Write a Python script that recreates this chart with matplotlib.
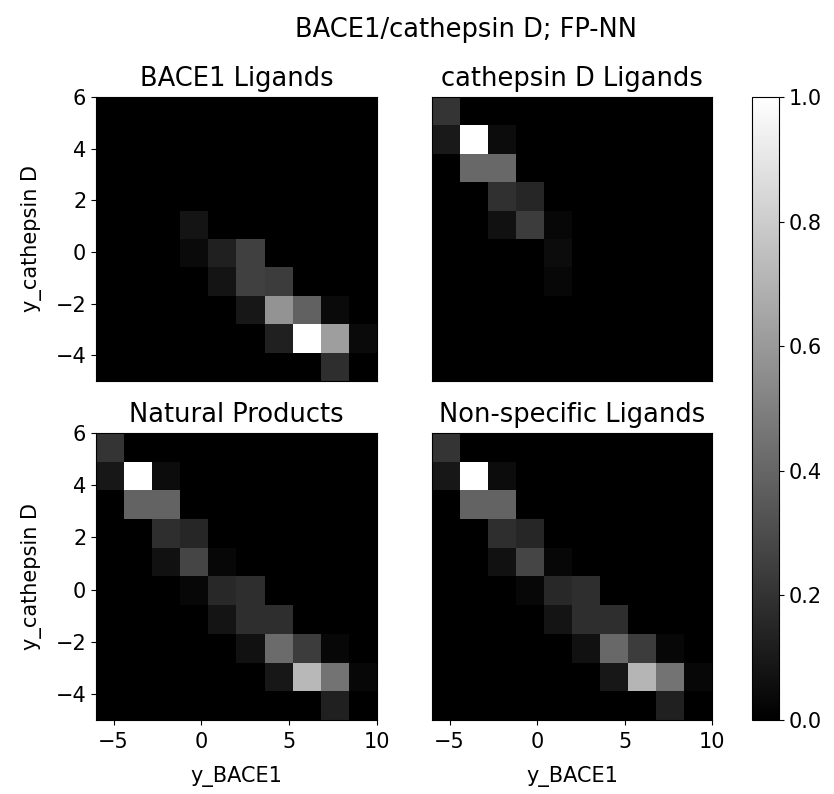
import numpy as np
import matplotlib
matplotlib.use("Agg")
import matplotlib.pyplot as plt

# Normalised 2D histogram values, 10 x 10 grid, rows from top (y_cathepsin D = 6) to bottom (-5),
# columns from left (y_BACE1 = -6) to right (10)
panel_titles = ["BACE1 Ligands", "cathepsin D Ligands", "Natural Products", "Non-specific Ligands"]

bace1_ligands = [
    [0, 0, 0, 0, 0, 0, 0, 0, 0, 0],
    [0, 0, 0, 0, 0, 0, 0, 0, 0, 0],
    [0, 0, 0, 0, 0, 0, 0, 0, 0, 0],
    [0, 0, 0, 0, 0, 0, 0, 0, 0, 0],
    [0, 0, 0, 0.08, 0, 0, 0, 0, 0, 0],
    [0, 0, 0, 0.04, 0.13, 0.25, 0, 0, 0, 0],
    [0, 0, 0, 0, 0.08, 0.25, 0.24, 0, 0, 0],
    [0, 0, 0, 0, 0, 0.09, 0.58, 0.38, 0.04, 0],
    [0, 0, 0, 0, 0, 0, 0.13, 1.0, 0.62, 0.04],
    [0, 0, 0, 0, 0, 0, 0, 0, 0.18, 0],
]

cathepsin_d_ligands = [
    [0.21, 0, 0, 0, 0, 0, 0, 0, 0, 0],
    [0.10, 1.0, 0.05, 0, 0, 0, 0, 0, 0, 0],
    [0, 0.41, 0.41, 0, 0, 0, 0, 0, 0, 0],
    [0, 0, 0.19, 0.15, 0, 0, 0, 0, 0, 0],
    [0, 0, 0.07, 0.24, 0.03, 0, 0, 0, 0, 0],
    [0, 0, 0, 0, 0.05, 0, 0, 0, 0, 0],
    [0, 0, 0, 0, 0.03, 0, 0, 0, 0, 0],
    [0, 0, 0, 0, 0, 0, 0, 0, 0, 0],
    [0, 0, 0, 0, 0, 0, 0, 0, 0, 0],
    [0, 0, 0, 0, 0, 0, 0, 0, 0, 0],
]

natural_products = [
    [0.21, 0, 0, 0, 0, 0, 0, 0, 0, 0],
    [0.09, 1.0, 0.05, 0, 0, 0, 0, 0, 0, 0],
    [0, 0.39, 0.39, 0, 0, 0, 0, 0, 0, 0],
    [0, 0, 0.18, 0.15, 0, 0, 0, 0, 0, 0],
    [0, 0, 0.07, 0.27, 0.03, 0, 0, 0, 0, 0],
    [0, 0, 0, 0.03, 0.16, 0.18, 0, 0, 0, 0],
    [0, 0, 0, 0, 0.08, 0.18, 0.18, 0, 0, 0],
    [0, 0, 0, 0, 0, 0.07, 0.42, 0.24, 0.03, 0],
    [0, 0, 0, 0, 0, 0, 0.09, 0.72, 0.45, 0.03],
    [0, 0, 0, 0, 0, 0, 0, 0, 0.13, 0],
]

non_specific_ligands = [
    [0.21, 0, 0, 0, 0, 0, 0, 0, 0, 0],
    [0.09, 1.0, 0.05, 0, 0, 0, 0, 0, 0, 0],
    [0, 0.39, 0.39, 0, 0, 0, 0, 0, 0, 0],
    [0, 0, 0.18, 0.15, 0, 0, 0, 0, 0, 0],
    [0, 0, 0.07, 0.27, 0.03, 0, 0, 0, 0, 0],
    [0, 0, 0, 0.03, 0.16, 0.18, 0, 0, 0, 0],
    [0, 0, 0, 0, 0.08, 0.18, 0.18, 0, 0, 0],
    [0, 0, 0, 0, 0, 0.07, 0.41, 0.24, 0.03, 0],
    [0, 0, 0, 0, 0, 0, 0.09, 0.71, 0.45, 0.03],
    [0, 0, 0, 0, 0, 0, 0, 0, 0.13, 0],
]

x_range = (-6, 10)
y_range = (-5, 6)

panels = [bace1_ligands, cathepsin_d_ligands, natural_products, non_specific_ligands]

fig = plt.figure(figsize=(8.34, 7.94), dpi=100)
W, H = 834, 794
def ax_at(l, t, r, b):
    return fig.add_axes([l / W, 1 - b / H, (r - l) / W, (b - t) / H])

boxes = [(96, 97, 377, 381), (432, 97, 712, 381), (96, 433, 377, 720), (432, 433, 712, 720)]
tick_fs = 15
title_fs = 18.5

im = None
for i, (data, title, box) in enumerate(zip(panels, panel_titles, boxes)):
    ax = ax_at(*box)
    im = ax.imshow(np.array(data), cmap="gray", vmin=0, vmax=1, aspect="auto",
                   extent=[x_range[0], x_range[1], y_range[0], y_range[1]],
                   interpolation="nearest", origin="upper")
    ax.set_title(title, fontsize=title_fs, pad=8)
    ax.set_xticks([-5, 0, 5, 10])
    ax.set_yticks([-4, -2, 0, 2, 4, 6])
    ax.tick_params(labelsize=tick_fs)
    ax.tick_params(axis="x", pad=5)
    if i % 2 == 1:
        ax.tick_params(labelleft=False, left=False)
    else:
        ax.set_ylabel("y_cathepsin D", fontsize=tick_fs, labelpad=10)
    if i < 2:
        ax.tick_params(labelbottom=False, bottom=False)
    else:
        ax.set_xlabel("y_BACE1", fontsize=tick_fs, labelpad=10)

cax = ax_at(752, 97, 779, 720)
cb = fig.colorbar(im, cax=cax)
cb.set_ticks([0.0, 0.2, 0.4, 0.6, 0.8, 1.0])
cb.ax.tick_params(labelsize=tick_fs)

fig.text(466 / W, 1 - 37 / H, "BACE1/cathepsin D; FP-NN", fontsize=title_fs,
         ha="center", va="baseline")

fig.savefig("out.png", dpi=100)
